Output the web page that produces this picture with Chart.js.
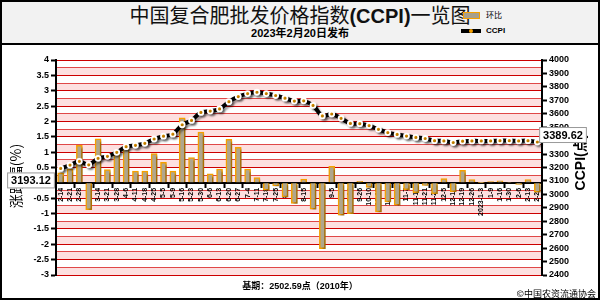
<!DOCTYPE html>
<html>
<head>
<meta charset="utf-8">
<script src="https://cdn.jsdelivr.net/npm/chart.js@4/dist/chart.umd.min.js"></script>
<style>
  body { margin: 0; }
  #wrap { position: relative; width: 600px; height: 300px; background: #fff; overflow: hidden;
          font-family: "Liberation Sans", "Noto Sans CJK SC", sans-serif; }
  #c { position: absolute; left: 0; top: 0; }
  #head { position: absolute; left: 0; top: 0; width: 600px; height: 45px; background: #f2f2f2;
          border-bottom: 2px solid #000; box-sizing: border-box; }
  #title { position: absolute; left: 0; width: 600px; top: 3px; text-align: center; font-size: 20px;
           font-family: "Noto Sans CJK SC", sans-serif; color: #111; line-height: 24px; }
  #title b { font-family: "Liberation Sans", sans-serif; }
  #sub { position: absolute; left: 0; width: 600px; top: 27px; text-align: center; font-size: 11px;
         font-weight: bold; line-height: 13px; }
  .lg { position: absolute; left: 486px; font-size: 8px; line-height: 10px; }
  #swBar { position: absolute; left: 463px; top: 12px; width: 15px; height: 5px; background: #a8a08c;
           border: 1.5px solid #f5a000; }
  #swLine { position: absolute; left: 461px; top: 29px; width: 20px; height: 4px; background: #000; }
  #swDot { position: absolute; left: 469px; top: 29px; width: 4px; height: 4px; border-radius: 2px; background: #f5a000; }
  #foot1 { position: absolute; left: 0; width: 600px; top: 279px; text-align: center; font-size: 9px; font-weight: bold; }
  #foot2 { position: absolute; right: 4px; top: 287px; font-size: 9px; font-family: "Noto Sans CJK SC", sans-serif; }
  #frame { position: absolute; left: 0; top: 0; width: 600px; height: 300px; border: 2px solid #000;
           box-sizing: border-box; pointer-events: none; }
</style>
</head>
<body>
<div id="wrap">
  <canvas id="c" width="600" height="300"></canvas>
  <div id="head">
    <div id="title">中国复合肥批发价格指数<b>(CCPI)</b>一览图</div>
    <div id="sub">2023年2月20日发布</div>
    <div id="swBar"></div>
    <div class="lg" style="top:10px;font-family:'Noto Sans CJK SC'">环比</div>
    <div id="swLine"></div><div id="swDot"></div>
    <div class="lg" style="top:26px;font-weight:bold">CCPI</div>
  </div>
  <div id="foot1">基期：2502.59点（2010年）</div>
  <div id="foot2">©中国农资流通协会</div>
  <div id="frame"></div>
</div>
<script>
// weekly release dates
var dates = ['2-14','2-21','2-28','3-7','3-14','3-21','3-28','4-6','4-11','4-18','4-25','5-5','5-9',
  '5-16','5-23','5-30','6-6','6-13','6-20','6-27','7-4','7-11','7-18','7-25','8-1','8-8','8-15',
  '8-22','8-29','9-5','9-13','9-19','9-26','10-10','10-17','10-24','10-31','11-7','11-14','11-21',
  '11-28','12-5','12-12','12-19','12-26','2023-1-3','1-9','1-16','1-30','2-6','2-13','2-20'];

// 环比 (%)
var change = [0.33, 0.45, 1.22, -0.87, 1.43, 0.43, 0.92, 1.22, 0.38, 0.38, 0.95, 0.67, 0.38,
  2.12, 0.82, 1.65, 0.29, 0.45, 1.42, 1.16, 0.45, 0.17, -0.24, -0.1, -0.46, -0.67, 0.12,
  -0.86, -2.14, 0.54, -1.05, -1.0, 0.05, -0.15, -0.95, -0.62, -0.73, -0.22, -0.32, -0.08,
  -0.35, 0.14, -0.29, 0.41, 0.11, 0.01, 0.04, 0.07, 0.02, -0.05, 0.11, -0.3];

// CCPI index points
var ccpi = [3193.12, 3218, 3246, 3220, 3268, 3283, 3313, 3355, 3365, 3380, 3412, 3433, 3448,
  3518, 3550, 3610, 3620, 3636, 3690, 3728, 3750, 3760, 3750, 3736, 3716, 3694, 3696,
  3662, 3584, 3598, 3566, 3528, 3526, 3512, 3484, 3460, 3446, 3434, 3424, 3416,
  3400, 3398, 3386, 3396, 3398, 3398, 3398, 3400, 3400, 3398, 3400, 3389.62];

var leftTitle = '涨跌幅(%)';
var rightTitle = 'CCPI(点)';

var FONT = '"Liberation Sans", "Noto Sans CJK SC", sans-serif';

function isHalf(v) {
  return Math.abs(v * 2 - Math.round(v * 2)) < 1e-6;
}

// pink / white stripes behind the plot
var bands = {
  id: 'bands',
  beforeDraw: function(chart) {
    var ctx = chart.ctx, a = chart.chartArea, y = chart.scales.y;
    ctx.save();
    ctx.fillStyle = '#fff';
    ctx.fillRect(a.left, a.top, a.right - a.left, a.bottom - a.top);
    ctx.fillStyle = '#fde0e0';
    for (var v = -3; v < 4; v += 0.5) {
      var y1 = y.getPixelForValue(v + 0.25), y0 = y.getPixelForValue(v);
      ctx.fillRect(a.left, y1, a.right - a.left, y0 - y1);
    }
    ctx.restore();
  }
};

var shade = {
  id: 'shade',
  beforeDatasetDraw: function(chart) {
    var ctx = chart.ctx;
    ctx.save();
    ctx.shadowColor = 'rgba(0,0,0,0.35)';
    ctx.shadowOffsetX = 2;
    ctx.shadowOffsetY = 2;
    ctx.shadowBlur = 2;
  },
  afterDatasetDraw: function(chart) {
    chart.ctx.restore();
  }
};

function valueBox(ctx, text, cx, cy) {
  ctx.font = 'bold 11px ' + FONT;
  var w = ctx.measureText(text).width + 8;
  ctx.fillStyle = '#fff';
  ctx.strokeStyle = '#999';
  ctx.lineWidth = 1;
  ctx.fillRect(cx - w / 2, cy - 8, w, 16);
  ctx.strokeRect(cx - w / 2 + 0.5, cy - 7.5, w - 1, 15);
  ctx.fillStyle = '#000';
  ctx.textAlign = 'center';
  ctx.textBaseline = 'middle';
  ctx.fillText(text, cx, cy + 0.5);
}

// axis titles and first / last value boxes
var extras = {
  id: 'extras',
  afterDraw: function(chart) {
    var ctx = chart.ctx;
    var pts = chart.getDatasetMeta(1).data;
    ctx.save();
    ctx.fillStyle = '#000';
    ctx.textAlign = 'center';
    ctx.textBaseline = 'middle';
    ctx.font = '14px "Noto Sans CJK SC", sans-serif';
    ctx.save();
    ctx.translate(16, 176);
    ctx.rotate(-Math.PI / 2);
    ctx.fillText(leftTitle, 0, 0);
    ctx.restore();
    ctx.font = 'bold 14px ' + FONT;
    ctx.save();
    ctx.translate(581, 162);
    ctx.rotate(-Math.PI / 2);
    ctx.fillText(rightTitle, 0, 0);
    ctx.restore();
    var first = pts[0], last = pts[pts.length - 1];
    valueBox(ctx, ccpi[0].toFixed(2), 31, first.y + 12);
    valueBox(ctx, ccpi[ccpi.length - 1].toFixed(2), 563, last.y - 7);
    ctx.restore();
  }
};

var ctx = document.getElementById('c');
var chart = new Chart(ctx, {
  data: {
    labels: dates,
    datasets: [{
      type: 'bar',
      label: '环比',
      data: change,
      yAxisID: 'y',
      backgroundColor: '#b0a68c',
      borderColor: '#f5a000',
      borderWidth: 1.5,
      barThickness: 6,
      order: 2
    }, {
      type: 'line',
      label: 'CCPI',
      data: ccpi,
      yAxisID: 'y2',
      borderColor: '#000',
      borderWidth: 4,
      tension: 0.35,
      pointRadius: 2.5,
      pointBorderWidth: 1.8,
      pointBorderColor: '#fff',
      pointBackgroundColor: '#f5a000',
      order: 1
    }]
  },
  options: {
    responsive: false,
    animation: false,
    layout: { padding: { top: 60, bottom: 25, left: 0, right: 0 } },
    plugins: { legend: { display: false }, tooltip: { enabled: false } },
    scales: {
      x: {
        position: { y: 0 },
        offset: true,
        grid: {
          offset: true,
          drawOnChartArea: false,
          tickLength: 4,
          tickWidth: 2,
          tickColor: function(c) { return c.index % 2 === 0 ? '#000' : 'rgba(0,0,0,0)'; }
        },
        border: { color: '#000', width: 2 },
        ticks: {
          autoSkip: false, minRotation: 90, maxRotation: 90, padding: 1,
          color: '#000', font: { size: 7, weight: 'bold', family: FONT }
        }
      },
      y: {
        position: 'left',
        min: -3,
        max: 4,
        afterFit: function(s) { s.width = 56; },
        ticks: {
          stepSize: 0.25, autoSkip: false, padding: 2, color: '#000',
          font: { size: 9, weight: 'bold', family: FONT },
          callback: function(v) { return isHalf(v) ? String(v) : ''; }
        },
        grid: {
          color: function(c) { return c.tick && isHalf(c.tick.value) ? '#cc0000' : '#e04848'; },
          lineWidth: 1,
          tickLength: 5,
          tickWidth: 2,
          tickColor: function(c) { return c.tick && isHalf(c.tick.value) ? '#000' : 'rgba(0,0,0,0)'; }
        },
        border: { color: '#000', width: 2 }
      },
      y2: {
        position: 'right',
        min: 2400,
        max: 4000,
        afterFit: function(s) { s.width = 58; },
        ticks: {
          stepSize: 100, autoSkip: false, padding: 2, color: '#000',
          font: { size: 9, weight: 'bold', family: FONT },
          callback: function(v) { return String(v); }
        },
        grid: { drawOnChartArea: false, tickLength: 5, tickWidth: 2, tickColor: '#000' },
        border: { color: '#000', width: 2 }
      }
    }
  },
  plugins: [bands, shade, extras]
});
</script>
</body>
</html>
